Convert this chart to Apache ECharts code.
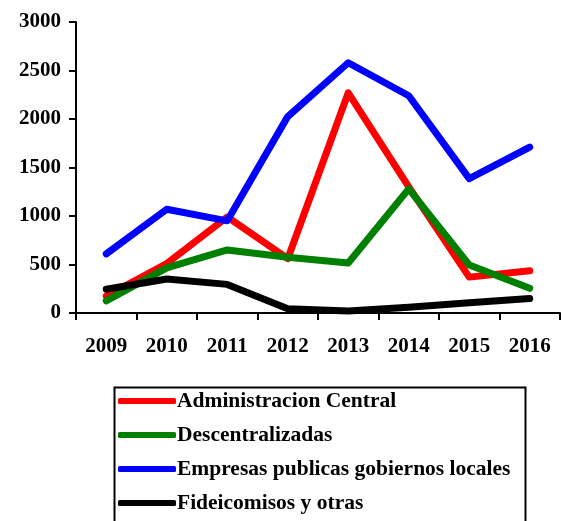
<!DOCTYPE html>
<html>
<head>
<meta charset="utf-8">
<script src="https://cdn.jsdelivr.net/npm/echarts@6/dist/echarts.min.js"></script>
<style>
  html, body { margin: 0; padding: 0; background: #fff; }
  #chart { width: 561px; height: 521px; }
</style>
</head>
<body>
<div id="chart"></div>
<script>
// Years on the category axis
const years = ['2009', '2010', '2011', '2012', '2013', '2014', '2015', '2016'];

// Series values by year
const administracionCentral = [175, 510, 990, 560, 2270, 1300, 370, 435];
const descentralizadas = [125, 465, 650, 575, 515, 1280, 495, 255];
const empresasPublicas = [610, 1070, 950, 2025, 2580, 2240, 1385, 1710];
const fideicomisos = [245, 350, 295, 45, 20, 60, 105, 150];

// Series names and colours
const seriesNames = [
  'Administracion Central',
  'Descentralizadas',
  'Empresas publicas gobiernos locales',
  'Fideicomisos y otras'
];
const seriesColors = ['#ff0000', '#008000', '#0000ff', '#000000'];
const seriesData = [administracionCentral, descentralizadas, empresasPublicas, fideicomisos];

const FONT = '"Liberation Serif", "Times New Roman", serif';

const chart = echarts.init(document.getElementById('chart'), null, { renderer: 'canvas' });

chart.setOption({
  animation: false,
  backgroundColor: '#ffffff',
  grid: { left: 76, top: 22, right: 1, bottom: 208, containLabel: false },
  xAxis: {
    type: 'category',
    data: years,
    boundaryGap: true,
    axisLine: { lineStyle: { color: '#000', width: 2 } },
    axisTick: { show: true, length: 7, lineStyle: { color: '#000', width: 2 } },
    axisLabel: { color: '#000', fontFamily: FONT, fontWeight: 'bold', fontSize: 21, margin: 23 },
    splitLine: { show: false }
  },
  yAxis: {
    type: 'value',
    min: 0,
    max: 3000,
    interval: 500,
    axisLine: { show: true, lineStyle: { color: '#000', width: 2 } },
    axisTick: { show: true, length: 7, lineStyle: { color: '#000', width: 2 } },
    axisLabel: {
      color: '#000', fontFamily: FONT, fontWeight: 'bold', fontSize: 21, margin: 15,
      formatter: (v) => String(v)
    },
    splitLine: { show: false }
  },
  // Legend frame, open at the bottom edge of the page
  graphic: [{
    type: 'rect',
    left: 112,
    top: 385,
    shape: { width: 411, height: 160 },
    style: { fill: 'none', stroke: '#000', lineWidth: 2 },
    silent: true
  }],
  legend: {
    orient: 'vertical',
    left: 113,
    top: 388,
    height: 200,
    padding: [2, 2, 2, 5],
    itemWidth: 58,
    itemHeight: 6,
    itemGap: 12,
    icon: 'roundRect',
    textStyle: { color: '#000', fontFamily: FONT, fontWeight: 'bold', fontSize: 21.5, lineHeight: 22, padding: [0, 0, 0, -4] },
    data: seriesNames
  },
  series: seriesNames.map((name, i) => ({
    name: name,
    type: 'line',
    data: seriesData[i],
    symbol: 'none',
    color: seriesColors[i],
    lineStyle: { color: seriesColors[i], width: 7, cap: 'round', join: 'round' },
    itemStyle: { color: seriesColors[i] }
  }))
});
</script>
</body>
</html>
